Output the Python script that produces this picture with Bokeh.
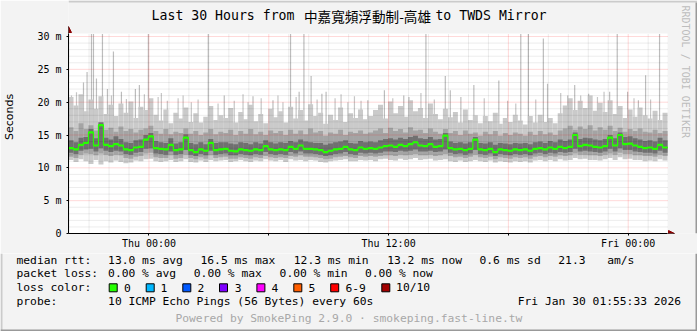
import math
from bokeh.plotting import figure
from bokeh.models import Range1d, FixedTicker, Label, Arrow, NormalHead
from bokeh.layouts import column
from bokeh.embed import file_html
from bokeh.resources import INLINE
from bokeh.core.properties import value

# ---------------- data ----------------
# time in hours relative to Thu Jan 29 00:00; 30 h window ending Fri Jan 30 01:55:33
T_START = -4.03
T_END = 25.97
BIN_H = 0.25
Y_MAX = 30.46

median_ms = [13.0, 12.8, 13.5, 13.8, 15.4, 13.4, 16.5, 13.5, 13.3, 13.6, 13.4, 12.8, 12.7, 13.1, 13.2, 14.3, 14.8, 13.0, 12.9, 12.8, 13.5, 12.7, 12.8, 14.6, 12.7, 12.4, 12.8, 12.6, 13.8, 12.7, 12.8,
             12.9, 12.6, 12.5, 12.8, 12.7, 12.6, 12.8, 12.7, 13.3, 12.8, 12.7, 12.8, 12.7, 13.2, 12.9, 13.4, 12.9, 12.9, 12.8, 12.7, 12.4, 12.6, 12.8, 12.9, 13.2, 12.8, 12.7, 13.1, 12.9,
             13.0, 12.9, 13.1, 13.3, 13.4, 13.2, 13.5, 13.3, 13.6, 13.9, 13.4, 13.3, 13.6, 13.2, 13.3, 14.9, 13.0, 12.8, 12.9, 12.7, 12.9, 14.3, 12.8, 12.7, 12.9, 12.4, 12.8, 12.7, 12.6, 12.8,
             12.7, 12.8, 12.6, 12.9, 13.0, 12.8, 13.1, 12.9, 13.2, 13.0, 13.2, 15.0, 13.3, 13.5, 13.4, 13.2, 13.1, 13.3, 14.6, 13.4, 15.0, 13.6, 13.7, 13.4, 13.2, 13.0, 13.1, 12.9, 13.5, 13.1]

smoke_hi1 = [20.8, 19.5, 21.2, 18.6, 20.4, 19.0, 20.9, 18.2, 19.6, 17.9, 19.8, 18.4, 20.1, 17.6, 19.3, 18.8, 20.6,
             18.1, 17.2, 18.9, 16.8, 18.4, 17.5, 19.2, 17.0, 18.3, 16.9, 17.8, 19.4, 17.3, 18.0,
             17.6, 19.1, 16.9, 18.5, 17.4, 19.6, 17.1, 18.2, 16.8, 19.0, 17.7, 18.6, 16.9, 19.3, 17.5, 18.8, 17.2, 19.7, 17.9, 18.4, 16.7, 18.1, 17.3, 19.2, 17.0, 18.3, 17.6, 18.9, 17.4,
             17.9, 18.8, 19.6, 17.5, 20.1, 18.3, 19.4, 17.8, 20.3, 18.6, 19.1, 17.6, 19.8, 18.2, 17.4, 19.0, 17.7, 18.5, 16.9, 18.9, 17.3, 18.0, 16.8, 17.9, 17.1, 18.4, 16.7, 17.6, 17.0, 18.1,
             17.2, 16.6, 17.9, 16.9, 18.1, 17.0, 17.6, 16.8, 18.3, 19.5, 20.6, 18.8, 20.2, 19.1, 21.0, 18.7, 19.9, 18.5, 20.3, 18.2, 19.4, 17.6, 18.9, 17.8, 19.2, 18.0, 17.5, 18.7, 17.3, 18.4]

smoke_hi2 = [16.2, 15.6, 16.8, 15.9, 16.5, 15.7, 17.0, 15.8, 16.1, 15.5, 16.3, 15.6, 15.9, 15.4, 15.8, 16.0, 16.4,
             15.6, 15.2, 15.9, 15.1, 15.5, 15.3, 16.0, 15.2, 15.6, 15.0, 15.4, 15.9, 15.1, 15.5,
             15.3, 15.8, 15.0, 15.6, 15.2, 15.9, 15.1, 15.5, 15.0, 15.7, 15.3, 15.6, 15.0, 15.8, 15.2, 15.7, 15.1, 16.0, 15.4, 15.6, 14.9, 15.4, 15.2, 15.8, 15.0, 15.5, 15.3, 15.7, 15.2,
             15.4, 15.7, 16.0, 15.3, 16.1, 15.6, 15.9, 15.4, 16.2, 15.7, 15.8, 15.3, 16.0, 15.5, 15.2, 15.9, 15.3, 15.6, 15.0, 15.7, 15.2, 15.4, 14.9, 15.5, 15.1, 15.6, 14.9, 15.3, 15.0, 15.4,
             15.2, 14.9, 15.5, 15.0, 15.6, 15.1, 15.4, 15.0, 15.7, 16.0, 16.4, 15.8, 16.3, 15.9, 16.5, 15.7, 16.2, 15.8, 16.4, 15.6, 16.1, 15.5, 15.9, 15.6, 16.0, 15.5, 15.4, 15.8, 15.3, 15.6]

smoke_hi3 = [14.2, 13.9, 14.6, 14.7, 15.9, 14.5, 16.9, 14.6, 14.3, 14.8, 14.4, 13.9, 13.8, 14.2, 14.3, 15.0, 15.3, 14.1, 13.9, 13.8, 14.5, 13.7, 13.9, 15.1, 13.8, 13.6, 13.9, 13.6, 14.4, 13.8, 13.9,
             13.9, 13.7, 13.6, 13.9, 13.8, 13.6, 13.9, 13.7, 14.2, 13.9, 13.7, 13.9, 13.8, 14.1, 13.9, 14.3, 14.0, 13.9, 13.8, 13.8, 13.5, 13.7, 13.9, 14.0, 14.2, 13.8, 13.7, 14.1, 13.9,
             14.0, 13.9, 14.2, 14.4, 14.5, 14.3, 14.6, 14.4, 14.7, 14.9, 14.5, 14.4, 14.7, 14.3, 14.4, 15.3, 14.0, 13.8, 13.9, 13.7, 13.9, 14.7, 13.8, 13.7, 13.9, 13.5, 13.8, 13.7, 13.6, 13.8,
             13.7, 13.8, 13.6, 13.9, 14.0, 13.8, 14.1, 13.9, 14.3, 14.1, 14.3, 15.4, 14.4, 14.6, 14.5, 14.3, 14.2, 14.4, 15.0, 14.5, 15.4, 14.7, 14.8, 14.5, 14.3, 14.1, 14.2, 14.0, 14.6, 14.2]

smoke_lo3 = [12.3, 12.1, 12.6, 12.8, 12.9, 12.5, 13.0, 12.6, 12.4, 12.6, 12.5, 12.1, 12.0, 12.3, 12.4, 12.9, 13.0, 12.2, 12.1, 12.0, 12.5, 12.0, 12.1, 12.7, 12.0, 11.8, 12.1, 11.9, 12.6, 12.0, 12.1,
             12.2, 11.9, 11.9, 12.1, 12.0, 11.9, 12.1, 12.0, 12.4, 12.1, 12.0, 12.1, 12.0, 12.4, 12.2, 12.5, 12.2, 12.2, 12.1, 12.0, 11.8, 11.9, 12.1, 12.2, 12.4, 12.1, 12.0, 12.3, 12.2,
             12.3, 12.2, 12.3, 12.5, 12.5, 12.4, 12.6, 12.5, 12.6, 12.8, 12.5, 12.5, 12.6, 12.4, 12.5, 12.8, 12.3, 12.1, 12.2, 12.0, 12.2, 12.7, 12.1, 12.0, 12.2, 11.8, 12.1, 12.0, 11.9, 12.1,
             12.0, 12.1, 11.9, 12.2, 12.3, 12.1, 12.3, 12.2, 12.4, 12.3, 12.4, 12.9, 12.5, 12.6, 12.5, 12.4, 12.3, 12.5, 12.9, 12.5, 13.0, 12.7, 12.7, 12.5, 12.4, 12.3, 12.3, 12.2, 12.6, 12.3]

smoke_lo2 = [11.7, 11.5, 12.0, 12.2, 12.1, 11.9, 12.2, 12.0, 11.8, 12.0, 11.9, 11.5, 11.4, 11.7, 11.8, 12.2, 12.3, 11.6, 11.5, 11.5, 11.9, 11.4, 11.5, 12.0, 11.5, 11.3, 11.6, 11.4, 11.9, 11.5, 11.6,
             11.7, 11.4, 11.4, 11.6, 11.5, 11.4, 11.6, 11.5, 11.8, 11.6, 11.5, 11.6, 11.5, 11.8, 11.7, 11.9, 11.7, 11.7, 11.6, 11.5, 11.3, 11.4, 11.6, 11.7, 11.8, 11.6, 11.5, 11.8, 11.7,
             11.8, 11.7, 11.8, 11.9, 11.9, 11.8, 12.0, 11.9, 12.0, 12.1, 11.9, 11.9, 12.0, 11.8, 11.9, 12.1, 11.8, 11.6, 11.7, 11.5, 11.7, 12.0, 11.6, 11.5, 11.7, 11.3, 11.6, 11.5, 11.4, 11.6,
             11.5, 11.6, 11.4, 11.7, 11.8, 11.6, 11.8, 11.7, 11.9, 11.8, 11.9, 12.2, 12.0, 12.0, 11.9, 11.9, 11.8, 12.0, 12.2, 12.0, 12.3, 12.1, 12.1, 11.9, 11.9, 11.8, 11.8, 11.7, 12.0, 11.8]

smoke_lo1 = [11.2, 10.9, 11.3, 11.0, 10.6, 11.2, 10.5, 11.0, 10.8, 11.1, 10.9, 10.7, 10.8, 11.1, 11.0, 11.3, 11.4, 11.0, 10.9, 11.0, 11.2, 10.9, 11.0, 11.3, 10.9, 10.8, 11.1, 10.9, 11.2, 11.0, 11.1,
             11.2, 10.9, 11.0, 11.2, 11.0, 10.9, 11.1, 11.0, 11.3, 11.1, 11.0, 11.2, 10.9, 11.3, 11.1, 11.2, 11.0, 11.2, 11.1, 10.9, 10.8, 11.0, 11.1, 11.2, 11.3, 11.0, 11.0, 11.2, 11.1,
             11.2, 11.0, 11.3, 11.4, 11.2, 11.1, 11.4, 11.2, 11.3, 11.5, 11.2, 11.3, 11.4, 11.1, 11.2, 11.3, 11.0, 10.9, 11.1, 10.9, 11.0, 11.2, 11.0, 10.9, 11.1, 10.8, 11.0, 10.9, 10.8, 11.0,
             10.9, 11.0, 10.8, 11.1, 11.2, 11.0, 11.2, 11.0, 11.3, 11.1, 11.2, 11.5, 11.3, 11.4, 11.2, 11.2, 11.1, 11.3, 11.5, 11.2, 11.6, 11.3, 11.4, 11.2, 11.2, 11.0, 11.1, 11.0, 11.3, 11.1]

# single high pings (hours since Thu 00:00, ms)
spike_t = [-3.28, -3.10, -2.88, -2.78, -2.63, -2.33, -2.08, -1.78, -1.38, -0.68, -0.48, -0.03, 2.97, 3.77,
           5.21, 6.21, 7.09, 7.52, 7.76, 8.12, 8.66, 8.87, 10.96, 11.79, 12.76, 13.02, 13.87, 14.84,
           15.09, 15.62, 16.27, 17.52, 18.62, 19.00, 19.75, 19.96, 20.97, 21.32, 22.02, 23.07, 23.45,
           23.97, 24.51, 24.87, 25.57]
spike_ms = [23.0, 24.6, 30.4, 30.4, 23.6, 30.4, 22.0, 27.7, 21.6, 22.0, 22.6, 30.4, 30.4, 21.0,
            20.9, 20.3, 30.4, 21.6, 30.4, 24.0, 21.3, 21.6, 20.3, 21.8, 21.0, 20.8, 30.4, 24.0,
            21.8, 20.8, 22.6, 23.3, 30.4, 30.4, 29.7, 22.8, 21.0, 22.6, 21.3, 21.6, 30.4,
            21.6, 20.3, 24.1, 30.4]
# smaller high pings that fray the top of the smoke
fray_t = [-3.88, -3.63, -1.88, -1.13, -0.23, 0.46, 0.62, 0.92, 1.46, 1.71, 2.12, 2.46, 3.46, 4.27,
          4.71, 4.96, 5.62, 6.46, 6.71, 7.37, 8.42, 9.32, 9.62, 9.96, 10.29, 10.62, 12.21, 13.62,
          14.29, 16.79, 17.96, 18.37, 19.37, 20.62, 21.62, 22.46, 22.79, 24.29, 25.12]
fray_ms = [21.0, 21.5, 21.0, 20.5, 21.2, 20.8, 21.4, 20.2, 20.6, 21.0, 20.0, 20.4, 19.8, 20.2,
           21.2, 20.0, 20.6, 21.0, 20.0, 20.8, 20.4, 20.6, 21.2, 20.0, 20.9, 20.2, 20.6, 21.4,
           20.4, 20.6, 20.2, 19.8, 20.4, 21.4, 21.0, 20.8, 21.6, 20.6, 20.4]

y_ticks = [0, 5, 10, 15, 20, 25, 30]
y_tick_labels = ["0", "5 m", "10 m", "15 m", "20 m", "25 m", "30 m"]
y_minor = [v for v in range(1, 31) if v % 5]
x_ticks = [0, 6, 12, 18, 24]
x_tick_labels = ["Thu 00:00", "", "Thu 12:00", "", "Fri 00:00"]
x_minor = [h for h in range(-4, 26) if h % 6]

rtt_stats = ["13.0 ms avg", "16.5 ms max", "12.3 ms min", "13.2 ms now", "0.6 ms sd", "21.3", "am/s"]
loss_stats = ["0.00 % avg", "0.00 % max", "0.00 % min", "0.00 % now"]
loss_names = ["0", "1", "2", "3", "4", "5", "6-9", "10/10"]
loss_colors = ["#26ff00", "#00b8ff", "#0059ff", "#7e00ff", "#ff00ff", "#ff5e00", "#ff0000", "#a10000"]
probe_text = "10 ICMP Echo Pings (56 Bytes) every 60s"
date_text = "Fri Jan 30 01:55:33 2026"
title_parts = ["Last 30 Hours from", "中嘉寬頻浮動制-高雄", "to TWDS Mirror"]

# ---------------- layout constants (page pixels) ----------------
BG = "#f3f3f3"
MONO = "DejaVu Sans Mono"
TOP_H = 253                 # height of the chart figure
AX_X, AX_Y = 67, 233        # axis origin = frame left / bottom
CH_R, CH_T = 667, 33        # chart right / top (frame runs on to the right and top edges)
PX_H = (CH_R - AX_X) / (T_END - T_START)   # px per hour
PX_MS = (AX_Y - CH_T) / Y_MAX              # px per ms


def fx(px):
    return T_START + (px - AX_X) / PX_H


def fy(py):
    return (AX_Y - py) / PX_MS


n = min(len(median_ms), len(smoke_hi1), len(smoke_hi2), len(smoke_hi3),
        len(smoke_lo1), len(smoke_lo2), len(smoke_lo3))
left = [T_START + BIN_H * i for i in range(n)]
right = [v + BIN_H for v in left]

p = figure(width=697, height=TOP_H, x_range=Range1d(T_START, fx(697)), y_range=Range1d(0, fy(0)),
           output_backend="svg", toolbar_location=None,
           min_border_left=AX_X, min_border_right=0, min_border_top=0, min_border_bottom=TOP_H - AX_Y)
p.frame_align = False
p.background_fill_color = BG
p.border_fill_color = BG
p.outline_line_color = None
p.grid.visible = False

# chart area
p.quad(left=[T_START], right=[T_END], bottom=[0], top=[Y_MAX], fill_color="white", line_color=None)
# high pings
p.segment(x0=fray_t, y0=[15.0] * len(fray_t), x1=fray_t, y1=fray_ms,
          line_color="#c6c6c6", line_width=1.2)
p.segment(x0=spike_t, y0=[15.0] * len(spike_t), x1=spike_t, y1=spike_ms,
          line_color="#bdbdbd", line_width=1.2)
# smoke bands
p.quad(left=left, right=right, bottom=smoke_lo1[:n], top=smoke_hi1[:n], fill_color="#cacaca", line_color=None)
p.quad(left=left, right=right, bottom=smoke_lo2[:n], top=smoke_hi2[:n], fill_color="#a4a4a4", line_color=None)
p.quad(left=left, right=right, bottom=smoke_lo3[:n], top=smoke_hi3[:n], fill_color="#707070", line_color=None)

# grid drawn above the smoke
p.segment(x0=[T_START] * len(y_minor), x1=[T_END] * len(y_minor), y0=y_minor, y1=y_minor,
          line_color="black", line_alpha=0.15, line_width=1, line_dash="1 1")
p.segment(x0=x_minor, x1=x_minor, y0=[0] * len(x_minor), y1=[Y_MAX] * len(x_minor),
          line_color="black", line_alpha=0.15, line_width=1, line_dash="1 1")
p.segment(x0=[T_START] * 6, x1=[T_END] * 6, y0=y_ticks[1:], y1=y_ticks[1:],
          line_color="#ff0000", line_alpha=0.3, line_width=1, line_dash="1 1")
p.segment(x0=x_ticks, x1=x_ticks, y0=[0] * len(x_ticks), y1=[Y_MAX] * len(x_ticks),
          line_color="#ff0000", line_alpha=0.3, line_width=1, line_dash="1 1")

# median
p.step(x=left + [T_END], y=median_ms[:n] + [median_ms[n - 1]], mode="after",
       line_color="#26ff00", line_width=1.2)
p.segment(x0=left, x1=right, y0=median_ms[:n], y1=median_ms[:n], line_color="#26ff00", line_width=2.2)

# axes
p.yaxis.bounds = (0, Y_MAX)
p.xaxis.bounds = (T_START, T_END)
p.yaxis.ticker = FixedTicker(ticks=y_ticks, minor_ticks=y_minor)
p.yaxis.major_label_overrides = dict(zip(y_ticks, y_tick_labels))
p.xaxis.ticker = FixedTicker(ticks=x_ticks, minor_ticks=x_minor)
p.xaxis.major_label_overrides = dict(zip(x_ticks, x_tick_labels))
for ax in (p.xaxis[0], p.yaxis[0]):
    ax.axis_line_color = "black"
    ax.axis_line_width = 1
    ax.major_tick_in = 0
    ax.major_tick_out = 2
    ax.minor_tick_in = 0
    ax.minor_tick_out = 0
    ax.major_tick_line_color = "black"
    ax.major_label_text_font = MONO
    ax.major_label_text_font_size = "10px"
    ax.major_label_text_color = "black"
p.yaxis.major_label_standoff = 5
p.xaxis.major_label_standoff = 2
p.yaxis.axis_label = "Seconds"
p.yaxis.axis_label_text_font = "DejaVu Sans"
p.yaxis.axis_label_text_font_size = "11px"
p.yaxis.axis_label_text_font_style = "normal"
p.yaxis.axis_label_text_color = "black"
p.yaxis.axis_label_standoff = 18

# axis arrows
ARROW = "#8b0000"
p.add_layout(Arrow(end=NormalHead(size=6, fill_color=ARROW, line_color=ARROW, line_width=1),
                   x_start=T_END, y_start=0, x_end=fx(674), y_end=0,
                   line_color="black", line_width=1))
p.add_layout(Arrow(end=NormalHead(size=6, fill_color=ARROW, line_color=ARROW, line_width=1),
                   x_start=T_START, y_start=Y_MAX, x_end=T_START, y_end=fy(26),
                   line_color="black", line_width=1))

# title
p.add_layout(Label(x=fx(150.2), y=fy(15), text=title_parts[0], text_font=MONO, text_font_size="13.2px",
                   text_align="left", text_baseline="middle", text_color="black"))
p.add_layout(Label(x=fx(366.5), y=fy(15), text=title_parts[1], text_font="Noto Sans CJK TC", text_font_size="13.6px",
                   text_align="center", text_baseline="middle", text_color="black"))
p.add_layout(Label(x=fx(545.8), y=fy(15), text=title_parts[2], text_font=MONO, text_font_size="13.2px",
                   text_align="right", text_baseline="middle", text_color="black"))
# watermark
p.add_layout(Label(x=fx(685), y=fy(5), text="RRDTOOL / TOBI OETIKER", angle=-math.pi / 2,
                   text_font=MONO, text_font_size="10px", text_align="left", text_baseline="middle",
                   text_color="#bdbdbd"))
# canvas frame edges (top light, right dark)
p.quad(left=[T_START, fx(695)], right=[fx(697), fx(697)], bottom=[fy(2), 0], top=[fy(0), fy(2)],
       fill_color=["#cbcbcb", "#999999"], line_color=None)

# ---------------- legend block ----------------
q = figure(width=697, height=331 - TOP_H, x_range=Range1d(0, 697), y_range=Range1d(331, TOP_H),
           output_backend="svg", toolbar_location=None, x_axis_location=None, y_axis_location=None,
           min_border=0, min_border_left=0, min_border_right=0, min_border_top=0, min_border_bottom=0)
q.frame_align = False
q.grid.visible = False
q.background_fill_color = BG
q.border_fill_color = BG
q.outline_line_color = None

LF = "11.3px"
rows_y = [259.7, 273.3, 287.3, 301.3]
rtt_x = [107.6, 200.0, 293.3, 386.7, 479.0, 557.8, 606.7]
loss_x = [107.6, 193.3, 279.1, 364.4]
swatch_x = [108.7, 145.7, 182.3, 219.0, 256.4, 293.3, 330.2, 381.3]
name_x = [123.6, 160.0, 197.0, 234.2, 271.1, 308.0, 344.9, 395.6]

txt_x = [16, 16, 16, 16] + rtt_x + loss_x + name_x + [107.6]
txt_y = rows_y + [rows_y[0]] * len(rtt_x) + [rows_y[1]] * len(loss_x) + [rows_y[2]] * len(name_x) + [rows_y[3]]
txt = ["median rtt:", "packet loss:", "loss color:", "probe:"] + rtt_stats + loss_stats + loss_names + [probe_text]
q.text(x=txt_x, y=txt_y, text=txt, text_font=value(MONO), text_font_size=LF,
       text_align="left", text_baseline="middle", text_color="black")
q.text(x=[680.5], y=[rows_y[3]], text=[date_text], text_font=value(MONO), text_font_size=LF,
       text_align="right", text_baseline="middle", text_color="black")
q.text(x=[348.4], y=[318.0], text=["Powered by SmokePing 2.9.0 · smokeping.fast-line.tw"],
       text_font=value(MONO), text_font_size=LF, text_align="center", text_baseline="middle",
       text_color="#a8a8a8")
q.quad(left=swatch_x, right=[v + 8 for v in swatch_x], top=[283.3] * len(swatch_x),
       bottom=[291.3] * len(swatch_x), fill_color=loss_colors, line_color="black", line_width=1)
# frame edges
q.quad(left=[0, 0, 695], right=[2, 697, 697], top=[TOP_H, 329, TOP_H], bottom=[331, 331, 331],
       fill_color=["#cbcbcb", "#999999", "#999999"], line_color=None)

layout = column(p, q, spacing=0)
open("out.html", "w").write(file_html(layout, INLINE))
